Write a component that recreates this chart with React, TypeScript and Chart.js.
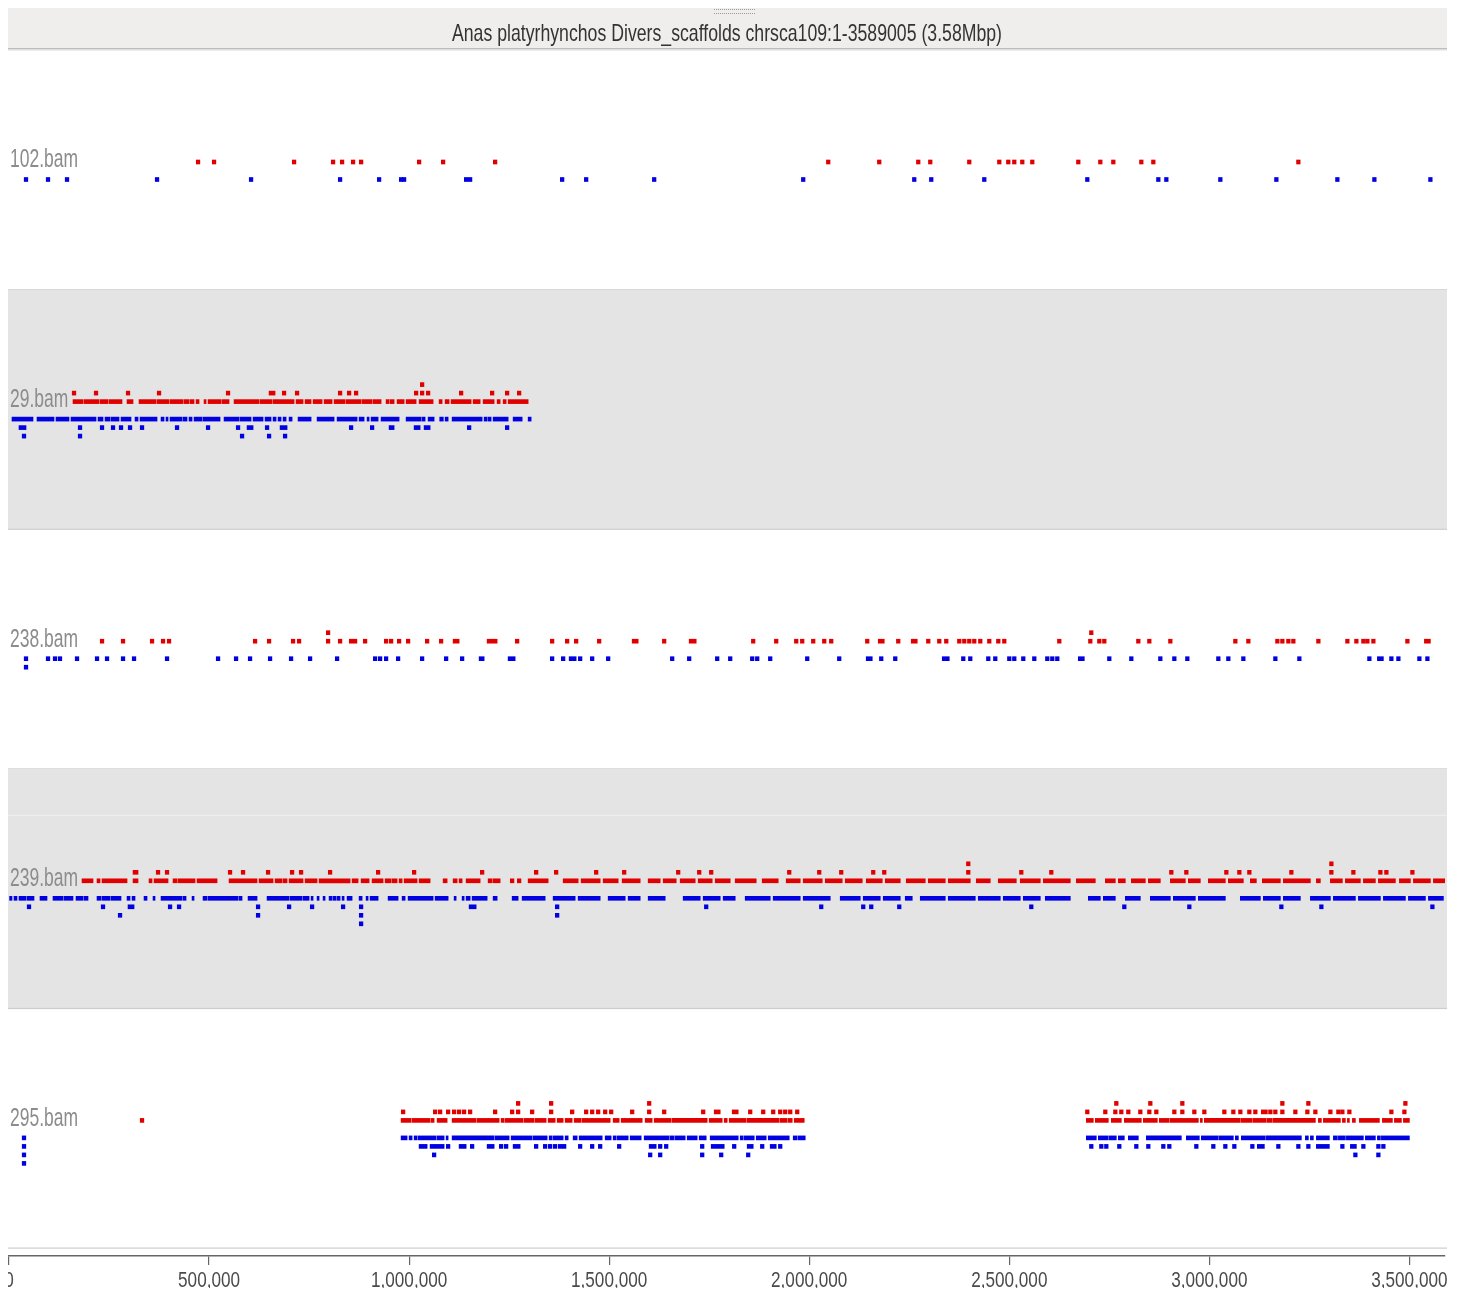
import React, { useEffect, useRef } from "react";
import { Chart, registerables } from "chart.js";

Chart.register(...registerables);

// ---------------- data ----------------
const TITLE = "Anas platyrhynchos Divers_scaffolds chrsca109:1-3589005 (3.58Mbp)";
const GENOME_LENGTH = 3589005;
const TICK_VALUES = [0, 500000, 1000000, 1500000, 2000000, 2500000, 3000000, 3500000];
const TRACK_NAMES = ["102.bam", "29.bam", "238.bam", "239.bam", "295.bam"];
const KB = 1000;
const READ_HALF_KB = 4.5;

type Entry = number | [number, number];

// 102.bam (positions in kb; single number = read centre, pair = run of reads)
const T102_FWD_0: Entry[] = [472.5, 512.5, 712.5, 810, 832.5, 860, 880, 1025, 1085, 1215, 2047.5, 2175, 2272.5, 2302.5, 2400, 2475, 2497.5, 2512.5, 2532.5, 2557.5, 2672.5, 2727.5, 2760, 2830, 2860, 3222.5];
const T102_REV_0: Entry[] = [42.5, 97.5, 145, 370, 605, 827.5, 925, 980, 987.5, 1142.5, 1152.5, 1382.5, 1442.5, 1612.5, 1985, 2262.5, 2305, 2437.5, 2695, 2872.5, 2892.5, 3027.5, 3167.5, 3320, 3412.5, 3552.5];

// 29.bam
const T29_FWD_0: Entry[] = [[160, 185], [187.5, 225], [227.5, 247.5], [250, 282.5], [295, 310], [325, 367.5], [370, 400], [402.5, 435], [437.5, 450], [452.5, 462.5], [467.5, 475], [487.5, 492.5], [497.5, 530], [532.5, 550], [562.5, 625], [627.5, 657.5], [660, 712.5], [717.5, 735], [740, 755], [760, 782.5], [787.5, 807.5], [812.5, 840], [842.5, 880], [882.5, 907.5], [910, 930], [942.5, 950], [952.5, 962.5], [970, 987.5], [992.5, 1017.5], [1025, 1060], [1075, 1082.5], [1090, 1100], [1105, 1155], [1160, 1177.5], [1185, 1212.5], [1220, 1227.5], [1235, 1242.5], [1247.5, 1297.5]];
const T29_FWD_1: Entry[] = [162.5, 217.5, 297.5, 375, 547.5, [650, 665], 687.5, 720, 827.5, 850, 867.5, 1017.5, 1032.5, 1047.5, 1130, 1207.5, 1245, 1275];
const T29_FWD_2: Entry[] = [1032.5];
const T29_REV_0: Entry[] = [[7.5, 60], [70, 112.5], [117.5, 150], [155, 217.5], [222.5, 235], [240, 252.5], [255, 275], [280, 305], [315, 322.5], [327.5, 370], [380, 387.5], [392.5, 397.5], [402.5, 432.5], [435, 445], [450, 457.5], [462.5, 482.5], [485, 527.5], [537.5, 575], [577.5, 605], [610, 635], [640, 655], [660, 667.5], [672.5, 680], [685, 692.5], [700, 707.5], [722.5, 755], [770, 812.5], [820, 870], [875, 887.5], [895, 900], [905, 922.5], [930, 975], [992.5, 1030], [1032.5, 1040], [1047.5, 1062.5], 1081, [1090, 1097.5], [1107.5, 1182.5], [1187.5, 1195], [1197.5, 1205], [1210, 1247.5], [1260, 1282.5], [1297.5, 1305]];
const T29_REV_1: Entry[] = [[25, 42.5], 177.5, 232.5, 260, 280, 302.5, 332.5, 420, 497.5, 572.5, [595, 610], 645, [677.5, 695], 855, 907.5, [950, 962.5], [1012.5, 1027.5], [1037.5, 1052.5], 1150, 1245];
const T29_REV_2: Entry[] = [37.5, 177.5, 582.5, 650, 690];

// 238.bam
const T238_FWD_0: Entry[] = [232.5, 285, 357.5, 385, 400, 615, 650, 710, 725, 797.5, 827.5, 855, 865, 890, 942.5, 955, 975, 997.5, 1045, 1080, [1110, 1125], [1195, 1220], 1270, 1357.5, 1395, 1417.5, 1475, [1557.5, 1572.5], 1637.5, [1700, 1717.5], 1860, 1917.5, 1967.5, 1982.5, 2010, 2037.5, 2055, 2145, [2172.5, 2187.5], 2222.5, [2255, 2270], 2297.5, 2325, 2342.5, 2375, 2387.5, 2400, 2412.5, 2427.5, 2450, 2472.5, 2487.5, 2625, 2702.5, 2725, 2737.5, 2822.5, 2850, 2902.5, 3065, 3097.5, 3170, 3182.5, 3197.5, 3210, 3272.5, 3345, 3367.5, 3385, 3395, 3410, 3495, [3537.5, 3552.5]];
const T238_FWD_1: Entry[] = [797.5, 2705];
const T238_REV_0: Entry[] = [42.5, 97.5, 115, 127.5, 170, 220, 245, 285, 312.5, 395, 522.5, 567.5, 602.5, 652.5, 705, 752.5, 820, 915, 927.5, 942.5, 972.5, 1032.5, 1092.5, 1132.5, [1175, 1187.5], [1247.5, 1265], 1357.5, 1385, [1400, 1417.5], 1427.5, 1457.5, 1497.5, 1657.5, 1700, 1770, 1802.5, 1857.5, 1870, 1902.5, 1995, 2075, [2142.5, 2157.5], 2180, 2215, [2332.5, 2350], 2385, 2402.5, 2447.5, 2465, 2500, 2512.5, 2535, 2562.5, 2595, 2607.5, 2620, [2672.5, 2687.5], 2750, 2805, 2877.5, 2912.5, 2945, 3022.5, 3047.5, 3085, 3165, 3225, 3400, [3420, 3435], 3455, 3472.5, 3525, 3545];
const T238_REV_1: Entry[] = [42.5];

// 239.bam
const T239_FWD_0: Entry[] = [[182.5, 210], [220, 227.5], [232.5, 295], [310, 322.5], [350, 357.5], [362.5, 397.5], [410, 420], [422.5, 465], [470, 520], [550, 620], [625, 660], [665, 682.5], [685, 695], [700, 735], [740, 770], [775, 852.5], [857.5, 872.5], [880, 900], [907.5, 935], [940, 955], [957.5, 970], [975, 982.5], [987.5, 1020], [1025, 1052.5], [1085, 1095], [1110, 1120], [1125, 1132.5], [1142.5, 1177.5], [1197.5, 1207.5], [1210, 1227.5], 1257.5, 1275, [1297.5, 1347.5], [1385, 1422.5], [1430, 1477.5], [1485, 1522.5], [1532.5, 1577.5], [1597.5, 1627.5], [1635, 1667.5], [1677.5, 1715], [1722.5, 1757.5], [1765, 1802.5], [1815, 1867.5], [1882.5, 1922.5], [1942.5, 1977.5], [1985, 2032.5], [2040, 2082.5], [2090, 2132.5], [2142.5, 2182.5], [2190, 2227.5], [2242.5, 2290], [2297.5, 2340], [2347.5, 2402.5], [2417.5, 2452.5], [2472.5, 2517.5], [2527.5, 2577.5], [2585, 2652.5], [2667.5, 2715], [2740, 2765], [2772.5, 2790], [2805, 2840], [2847.5, 2877.5], [2902.5, 2940], [2947.5, 2977.5], [2997.5, 3040], [3047.5, 3085], [3102.5, 3117.5], [3132.5, 3177.5], [3185, 3252.5], [3267.5, 3277.5], [3302.5, 3332.5], [3340, 3377.5], [3385, 3415], [3422.5, 3465], [3475, 3502.5], [3510, 3552.5], [3560, 3589]];
const T239_FWD_1: Entry[] = [[310, 322.5], 372.5, 395, 552.5, 585, 647.5, 707.5, 730, 802.5, 922.5, 1012.5, 1182.5, 1317.5, 1367.5, 1467.5, 1537.5, 1672.5, 1725, 1755, 1950, 2025, 2080, 2160, 2187.5, 2397.5, 2530, 2605, 2905, 2942.5, 3042.5, 3075, 3100, 3205, 3305, 3360, 3427.5, 3442.5, 3507.5];
const T239_FWD_2: Entry[] = [2397.5, 3305];
const T239_REV_0: Entry[] = [[0, 7.5], [12.5, 20], [25, 42.5], [45, 62.5], [77.5, 95], [110, 135], [137.5, 160], [167.5, 185], [187.5, 197.5], [220, 230], [232.5, 252.5], [255, 280], [295, 302.5], [307.5, 315], [337.5, 345], [360, 365], [380, 432.5], [435, 442.5], [457.5, 462.5], [485, 495], [497.5, 572.5], [575, 582.5], [597.5, 620], [645, 700], [702.5, 732.5], [735, 750], [755, 760], [770, 775], [785, 790], [800, 807.5], [810, 817.5], [820, 827.5], [832.5, 837.5], [845, 857.5], [875, 882.5], [892.5, 897.5], [902.5, 922.5], [947.5, 972.5], [982.5, 990], [997.5, 1060], [1065, 1097.5], [1112.5, 1117.5], [1132.5, 1137.5], [1142.5, 1152.5], [1157.5, 1195], [1210, 1220], [1257.5, 1272.5], [1282.5, 1340], [1360, 1415], [1422.5, 1477.5], [1497.5, 1540], [1547.5, 1577.5], [1597.5, 1640], [1685, 1727.5], [1735, 1777.5], [1785, 1815], [1840, 1902.5], [1910, 1977.5], [1985, 2052.5], [2077.5, 2127.5], [2135, 2177.5], [2185, 2227.5], [2240, 2257.5], [2277.5, 2340], [2347.5, 2415], [2422.5, 2477.5], [2485, 2527.5], [2535, 2577.5], [2590, 2652.5], [2697.5, 2727.5], [2735, 2765], [2790, 2827.5], [2852.5, 2902.5], [2910, 2965], [2972.5, 3040], [3077.5, 3127.5], [3135, 3177.5], [3185, 3227.5], [3252.5, 3302.5], [3310, 3365], [3372.5, 3427.5], [3435, 3490], [3497.5, 3540], [3547.5, 3585]];
const T239_REV_1: Entry[] = [50, 235, [297.5, 312.5], 402.5, 425, 622.5, 700, 757.5, 835, 880, [1150, 1167.5], 1370, 1742.5, 2030, 2135, 2155, 2225, 2555, 2787.5, 2950, 3180, 3280, 3557.5];
const T239_REV_2: Entry[] = [277.5, 622.5, 880, 1370];
const T239_REV_3: Entry[] = [880];

// 295.bam
const T295_FWD_0: Entry[] = [332.5, [980, 1005], [1007.5, 1052.5], [1055, 1062.5], [1070, 1095], [1107.5, 1167.5], [1170, 1225], [1230, 1237.5], [1240, 1285], [1287.5, 1312.5], [1315, 1342.5], [1347.5, 1365], [1370, 1385], [1390, 1407.5], [1412.5, 1430], [1432.5, 1502.5], [1510, 1525], [1530, 1582.5], [1590, 1607.5], [1612.5, 1655], [1657.5, 1745], [1750, 1782.5], [1787.5, 1795], [1800, 1842.5], [1845, 1925], [1927.5, 1945], [1947.5, 1957.5], [1962.5, 1987.5], [2692.5, 2710], [2715, 2747.5], [2755, 2780], [2787.5, 2830], [2835, 2870], [2875, 2900], [2902.5, 2972.5], [2977.5, 2982.5], [2987.5, 3077.5], [3080, 3107.5], [3110, 3142.5], [3145, 3157.5], [3160, 3265], [3272.5, 3280], [3285, 3327.5], [3332.5, 3340], [3345, 3350], [3357.5, 3365], [3375, 3425], [3432.5, 3457.5], [3462.5, 3480], [3485, 3500]];
const T295_FWD_1: Entry[] = [985, 1065, 1077.5, 1097.5, 1112.5, 1125, 1137.5, 1152.5, 1215, 1257.5, 1272.5, 1307.5, 1355, 1407.5, 1442.5, 1457.5, 1472.5, 1490, 1505, 1557.5, 1600, 1637.5, 1735, [1762.5, 1777.5], [1807.5, 1822.5], 1852.5, 1885, 1910, 1927.5, 1940, 1952.5, 1970, 2695, 2740, 2765, 2780, 2797.5, 2827.5, 2850, 2867.5, 2912.5, 2932.5, 2962.5, 2987.5, 3037.5, 3060, 3077.5, 3100, 3115, [3130, 3145], 3152.5, 3165, 3182.5, 3215, 3245, 3265, 3302.5, 3322.5, 3332.5, 3350, 3455, 3487.5];
const T295_FWD_2: Entry[] = [1272.5, 1355, 1600, 2767.5, 2852.5, 2932.5, 3182.5, 3247.5, 3490];
const T295_REV_0: Entry[] = [37.5, [980, 995], [1000, 1007.5], [1012.5, 1020], [1022.5, 1067.5], [1070, 1087.5], [1092.5, 1097.5], [1107.5, 1212.5], [1215, 1250], [1255, 1307.5], [1310, 1345], [1350, 1357.5], [1360, 1385], [1390, 1397.5], [1410, 1420], [1425, 1482.5], [1490, 1505], [1510, 1517.5], [1520, 1547.5], [1552.5, 1580], [1587.5, 1650], [1652.5, 1662.5], [1665, 1690], [1695, 1720], [1725, 1742.5], [1752.5, 1822.5], [1827.5, 1835], [1837.5, 1862.5], [1867.5, 1892.5], [1897.5, 1950], [1960, 1970], [1972.5, 1990], [2692.5, 2717.5], [2722.5, 2747.5], [2750, 2767.5], [2772.5, 2787.5], [2797.5, 2822.5], [2842.5, 2930], [2942.5, 2975], [2980, 3022.5], [3025, 3060], [3065, 3072.5], [3080, 3140], [3142.5, 3230], [3240, 3247.5], [3252.5, 3260], [3267.5, 3300], [3310, 3320], [3322.5, 3340], [3342.5, 3385], [3390, 3415], [3420, 3427.5], [3430, 3500]];
const T295_REV_1: Entry[] = [37.5, [1025, 1045], [1052.5, 1087.5], 1097.5, [1125, 1142.5], 1157.5, [1195, 1212.5], 1230, 1242.5, [1260, 1277.5], 1317.5, 1340, 1352.5, 1365, 1377.5, 1387.5, 1427.5, 1457.5, 1477.5, 1525, [1600, 1617.5], 1627.5, 1642.5, 1732.5, [1755, 1787.5], 1812.5, [1845, 1860], 1882.5, [1902.5, 1917.5], 1927.5, 2705, 2730, 2742.5, 2775, 2817.5, 2847.5, 2885, 2900, 2967.5, 3010, 3040, 3062.5, 3107.5, [3120, 3137.5], 3172.5, 3222.5, 3247.5, [3267.5, 3300], 3332.5, [3352.5, 3367.5], 3385, 3422.5, 3435];
const T295_REV_2: Entry[] = [37.5, 1062.5, 1602.5, 1627.5, 1732.5, 1780, 1847.5, 3365, 3422.5];
const T295_REV_3: Entry[] = [37.5];

const TRACK_FWD: Entry[][][] = [
  [T102_FWD_0],
  [T29_FWD_0, T29_FWD_1, T29_FWD_2],
  [T238_FWD_0, T238_FWD_1],
  [T239_FWD_0, T239_FWD_1, T239_FWD_2],
  [T295_FWD_0, T295_FWD_1, T295_FWD_2],
];
const TRACK_REV: Entry[][][] = [
  [T102_REV_0],
  [T29_REV_0, T29_REV_1, T29_REV_2],
  [T238_REV_0, T238_REV_1],
  [T239_REV_0, T239_REV_1, T239_REV_2, T239_REV_3],
  [T295_REV_0, T295_REV_1, T295_REV_2, T295_REV_3],
];

// ---------------- layout / style ----------------
const CANVAS_W = 1440;
const CANVAS_H = 1280;
const TITLE_H = 40;
const AREA_TOP = 42;
const AREA_BOTTOM = 1248;
const TRACK_H = 239.6;
const FWD_OFFSET = 112;
const REV_OFFSET = 129.5;
const ROW_STEP = 8.5;
const LABEL_OFFSET = 110.5;
const RED = "#e00000";
const BLUE = "#0000e0";
const GREY_BAND = "#e4e4e4";
const FONT_FAMILY = "'Liberation Sans', 'DejaVu Sans', sans-serif";

const toInterval = (e: Entry): [number, number] =>
  typeof e === "number"
    ? [(e - READ_HALF_KB) * KB, (e + READ_HALF_KB) * KB]
    : [e[0] * KB, e[1] * KB];

function buildPoints(rows: Entry[][][], forward: boolean) {
  const pts: { x: [number, number]; y: number }[] = [];
  rows.forEach((trackRows, ti) => {
    const top = AREA_TOP + ti * TRACK_H;
    trackRows.forEach((row, ri) => {
      const y = forward ? top + FWD_OFFSET - ri * ROW_STEP : top + REV_OFFSET + ri * ROW_STEP;
      row.forEach((e) => pts.push({ x: toInterval(e), y }));
    });
  });
  return pts;
}

function fitText(
  ctx: CanvasRenderingContext2D,
  text: string,
  x: number,
  y: number,
  size: number,
  color: string,
  scaleX: number,
  align: CanvasTextAlign
) {
  ctx.save();
  ctx.font = `${size}px ${FONT_FAMILY}`;
  ctx.fillStyle = color;
  ctx.textBaseline = "middle";
  ctx.textAlign = align;
  ctx.translate(x, y);
  ctx.scale(scaleX, 1);
  ctx.fillText(text, 0, 0);
  ctx.restore();
}

function measure(ctx: CanvasRenderingContext2D, text: string, size: number) {
  ctx.save();
  ctx.font = `${size}px ${FONT_FAMILY}`;
  const w = ctx.measureText(text).width;
  ctx.restore();
  return w;
}

const decorPlugin = {
  id: "genomeDecor",
  beforeDraw(chart: any) {
    const ctx: CanvasRenderingContext2D = chart.ctx;
    const ys = chart.scales.y;
    ctx.save();
    ctx.fillStyle = "#ffffff";
    ctx.fillRect(0, 0, CANVAS_W, CANVAS_H);
    // title band
    ctx.fillStyle = "#efeeed";
    ctx.fillRect(0, 0, CANVAS_W - 1, TITLE_H);
    ctx.fillStyle = "#bdbdbd";
    ctx.fillRect(0, TITLE_H, CANVAS_W - 1, 1.5);
    ctx.fillStyle = "#dedede";
    ctx.fillRect(0, TITLE_H + 1.5, CANVAS_W - 1, 1);
    // handle dots
    ctx.fillStyle = "#9a9a9a";
    for (let x = 706; x < 747; x += 2) {
      ctx.fillRect(x, 1, 1, 1);
      ctx.fillRect(x, 5, 1, 1);
    }
    // title text
    const tw = measure(ctx, TITLE, 24);
    fitText(ctx, TITLE, 719, 26, 24, "#333333", 550 / tw, "center");
    // track bands
    TRACK_NAMES.forEach((_, i) => {
      const t = ys.getPixelForValue(AREA_TOP + i * TRACK_H);
      const b = ys.getPixelForValue(AREA_TOP + (i + 1) * TRACK_H);
      if (i % 2 === 1) {
        ctx.fillStyle = GREY_BAND;
        ctx.fillRect(0, t, CANVAS_W - 1, b - t);
        if (i === 3) {
          ctx.fillStyle = "rgba(255,255,255,0.45)";
          ctx.fillRect(0, t + 46, CANVAS_W - 1, 1);
        }
      }
      ctx.fillStyle = "#cdcdcd";
      ctx.fillRect(0, b - 0.5, CANVAS_W - 1, 1.2);
    });
    ctx.restore();
  },
  beforeDatasetsDraw(chart: any) {
    const ctx: CanvasRenderingContext2D = chart.ctx;
    const ys = chart.scales.y;
    const sx = 68 / measure(ctx, "102.bam", 25);
    TRACK_NAMES.forEach((name, i) => {
      const y = ys.getPixelForValue(AREA_TOP + i * TRACK_H + LABEL_OFFSET);
      fitText(ctx, name, 2, y, 25, "#8c8c8c", sx, "left");
    });
  },
  afterDraw(chart: any) {
    const ctx: CanvasRenderingContext2D = chart.ctx;
    const xs = chart.scales.x;
    const sx = 62 / measure(ctx, "500,000", 22);
    TICK_VALUES.forEach((v) => {
      const px = xs.getPixelForValue(v);
      fitText(ctx, v.toLocaleString("en-US"), px, 1273, 22, "#4a4a4a", sx, "center");
    });
  },
};

export default function App() {
  const ref = useRef<HTMLCanvasElement | null>(null);
  useEffect(() => {
    if (!ref.current) return;
    const chart = new Chart(ref.current, {
      type: "bar",
      data: {
        datasets: [
          {
            label: "forward",
            data: buildPoints(TRACK_FWD, true) as any,
            backgroundColor: RED,
            borderWidth: 0,
            barThickness: 4,
            grouped: false,
          } as any,
          {
            label: "reverse",
            data: buildPoints(TRACK_REV, false) as any,
            backgroundColor: BLUE,
            borderWidth: 0,
            barThickness: 4,
            grouped: false,
          } as any,
        ],
      },
      options: {
        animation: false,
        responsive: false,
        devicePixelRatio: 1,
        indexAxis: "y",
        layout: { padding: { top: AREA_TOP, left: 1, right: 3, bottom: 0 } },
        plugins: {
          legend: { display: false },
          tooltip: { enabled: false },
          title: { display: false },
        },
        scales: {
          x: {
            type: "linear",
            position: "bottom",
            offset: false,
            min: 0,
            max: GENOME_LENGTH,
            afterBuildTicks: (scale: any) => {
              scale.ticks = TICK_VALUES.map((v) => ({ value: v }));
            },
            afterFit: (scale: any) => {
              scale.paddingLeft = 0;
              scale.paddingRight = 0;
              scale.height = CANVAS_H - AREA_BOTTOM;
            },
            ticks: { color: "rgba(0,0,0,0)", font: { size: 1 } },
            grid: { offset: false, drawOnChartArea: false, drawTicks: true, tickLength: 9, color: "#666666", lineWidth: 1.2 },
            border: { display: true, color: "#666666", width: 1.5 },
          },
          y: {
            type: "linear",
            display: false,
            offset: false,
            min: AREA_TOP,
            max: AREA_BOTTOM,
            reverse: true,
            grid: { offset: false },
          },
        },
      } as any,
      plugins: [decorPlugin],
    });
    return () => chart.destroy();
  }, []);
  return (
    <div style={{ width: CANVAS_W, height: CANVAS_H }}>
      <canvas ref={ref} width={CANVAS_W} height={CANVAS_H} style={{ display: "block" }} />
    </div>
  );
}
